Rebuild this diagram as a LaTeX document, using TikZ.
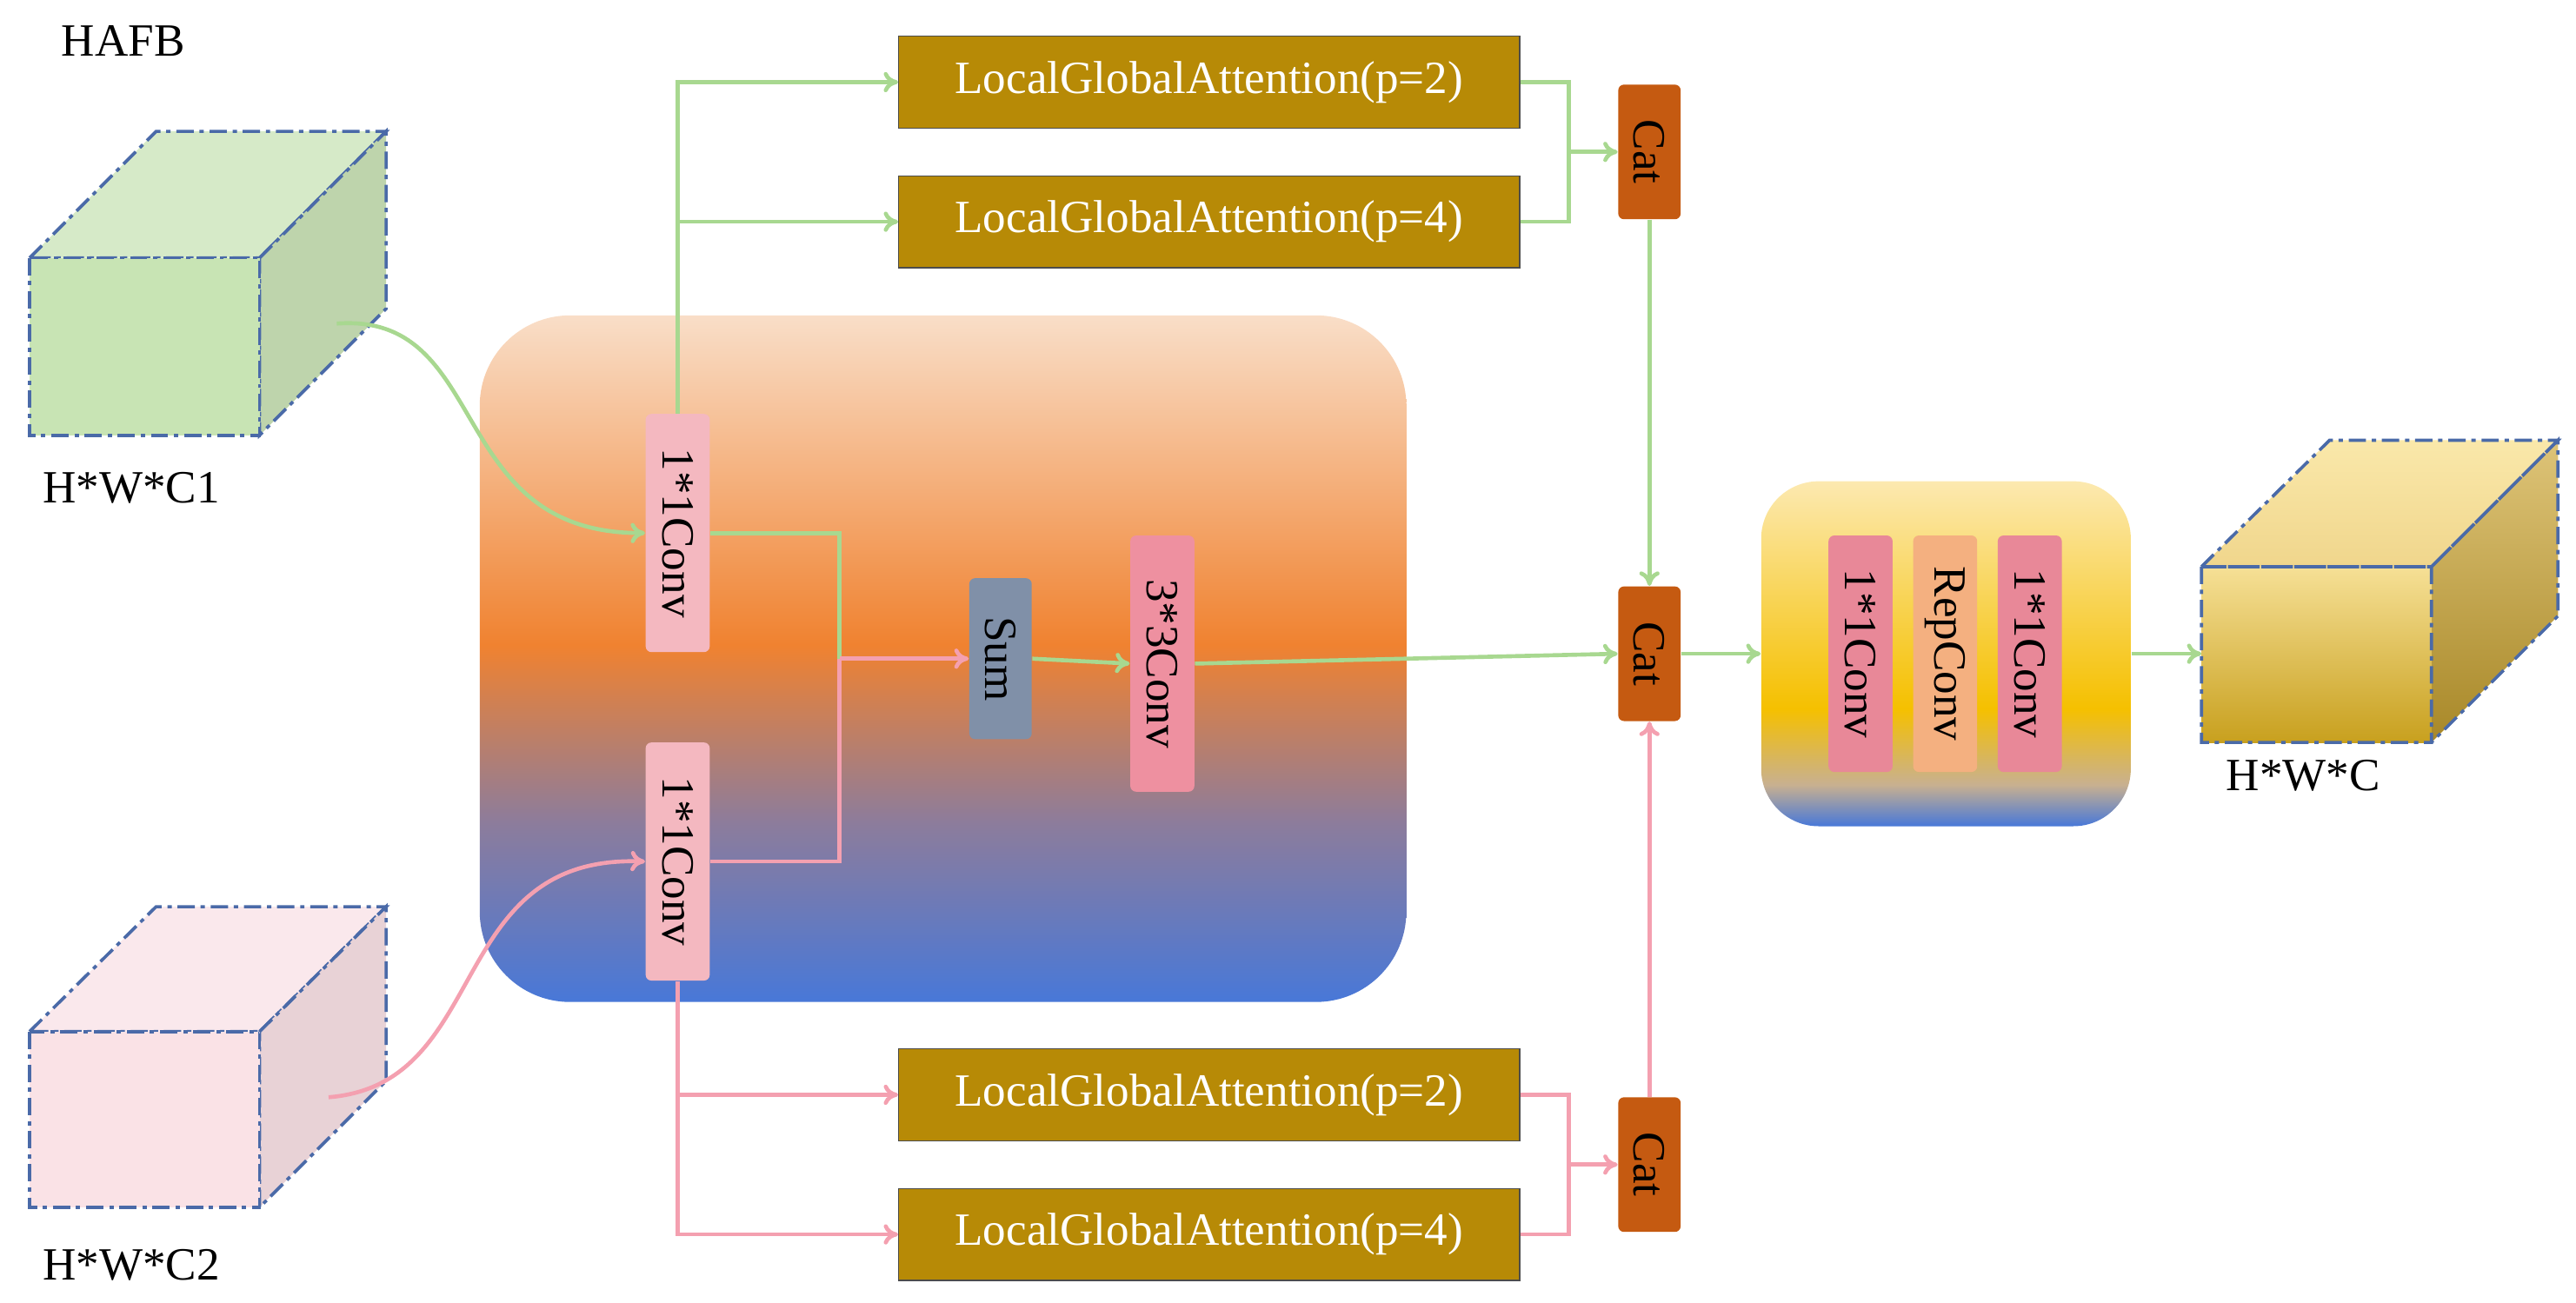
\documentclass[tikz,border=0pt]{standalone}
\usepackage{fontspec}
\setmainfont{Liberation Serif}
\usetikzlibrary{arrows.meta}
\definecolor{gl}{HTML}{A8D890}
\definecolor{pk}{HTML}{F4A0B0}
\definecolor{gold}{HTML}{B78A06}
\definecolor{catc}{HTML}{C55A11}
\definecolor{cb}{HTML}{4A6AA8}
\definecolor{sbl}{HTML}{4878D8}
\definecolor{smv}{HTML}{8C7C9C}
\definecolor{sor}{HTML}{F08230}
\definecolor{spc}{HTML}{F9DEC8}
\definecolor{ytan}{HTML}{C8B090}
\definecolor{yy}{HTML}{F5C000}
\definecolor{ylt}{HTML}{FCE9B0}
\pgfdeclareverticalshading{bigsh}{100bp}{color(0bp)=(sbl);color(25bp)=(sbl);color(38bp)=(smv);color(51bp)=(sor);color(75bp)=(spc);color(100bp)=(spc)}
\pgfdeclareverticalshading{ysh}{100bp}{color(0bp)=(sbl);color(25bp)=(sbl);color(31bp)=(ytan);color(42bp)=(yy);color(75bp)=(ylt);color(100bp)=(ylt)}
\tikzset{
 x=0.02cm,y=-0.02cm,
 every node/.style={font=\fontsize{16}{19}\selectfont, inner sep=0pt},
 lga/.style={draw=black!70,fill=gold,text=white,minimum width=7.56cm,minimum height=1.12cm},
 cat/.style={fill=catc,rounded corners=2pt,minimum width=0.76cm,minimum height=1.64cm},
 cv/.style={rounded corners=2pt,minimum width=0.78cm},
 g/.style={draw=gl,line width=1.4pt,-{To[length=5pt,width=7pt]}},
 gn/.style={draw=gl,line width=1.4pt},
 p/.style={draw=pk,line width=1.4pt,-{To[length=5pt,width=7pt]}},
 pn/.style={draw=pk,line width=1.4pt},
 cubeedge/.style={draw=cb,line width=1.1pt,dash pattern=on 6pt off 2pt on 1.5pt off 2pt},
}
\newcommand{\rt}[1]{\rotatebox{-90}{#1}}
\begin{document}
\begin{tikzpicture}
\useasboundingbox (0,0) rectangle (1568,793);
\node at (75,25) {HAFB};
% green cube
\filldraw[cubeedge,fill={rgb,255:red,214;green,234;blue,200}] (18,157)--(95,80)--(235,80)--(158,157)--cycle;
\filldraw[cubeedge,fill={rgb,255:red,190;green,212;blue,172}] (158,157)--(235,80)--(235,188)--(158,265)--cycle;
\draw[cubeedge,fill={rgb,255:red,200;green,228;blue,180}] (18,157) rectangle (158,265);
\node (l1) at (80,297) {H*W*C1};
\coordinate (gc) at (205,197);
% pink cube
\filldraw[cubeedge,fill={rgb,255:red,250;green,232;blue,236}] (18,628)--(95,552)--(235,552)--(158,628)--cycle;
\filldraw[cubeedge,fill={rgb,255:red,232;green,210;blue,214}] (158,628)--(235,552)--(235,658)--(158,735)--cycle;
\draw[cubeedge,fill={rgb,255:red,250;green,226;blue,230}] (18,628) rectangle (158,735);
\node (l2) at (80,770) {H*W*C2};
\coordinate (pc) at (200,668);
% big box
\shade[shading=bigsh,rounded corners=1.1cm] (292,192) rectangle (856,610);
\node[cv,fill={rgb,255:red,244;green,184;blue,192},minimum height=2.9cm] (cT) at (412.5,324.5) {\rt{1*1Conv}};
\node[cv,fill={rgb,255:red,244;green,184;blue,192},minimum height=2.9cm] (cB) at (412.5,524.5) {\rt{1*1Conv}};
\node[cv,fill={rgb,255:red,128;green,144;blue,168},minimum width=0.76cm,minimum height=1.96cm] (sum) at (609,401) {\rt{Sum}};
\node[cv,fill={rgb,255:red,238;green,144;blue,160},minimum height=3.12cm] (c33) at (707.5,404) {\rt{3*3Conv}};
% LGA
\node[lga] (a1) at (736,50) {LocalGlobalAttention(p=2)};
\node[lga] (a2) at (736,135) {LocalGlobalAttention(p=4)};
\node[lga] (a3) at (736,666.5) {LocalGlobalAttention(p=2)};
\node[lga] (a4) at (736,751.5) {LocalGlobalAttention(p=4)};
\node[cat] (k1) at (1004,92.5) {\rt{Cat}};
\node[cat] (k2) at (1004,398) {\rt{Cat}};
\node[cat] (k3) at (1004,709) {\rt{Cat}};
% yellow block
\shade[shading=ysh,rounded corners=0.7cm] (1072,293) rectangle (1297,503);
\node (yb) at (1184.5,398) [minimum width=4.5cm,minimum height=4.2cm] {};
\node[cv,fill={rgb,255:red,232;green,136;blue,152},minimum height=2.88cm] (i1) at (1132.5,398) {\rt{1*1Conv}};
\node[cv,fill={rgb,255:red,244;green,176;blue,128},minimum height=2.88cm] (i2) at (1184,398) {\rt{RepConv}};
\node[cv,fill={rgb,255:red,232;green,136;blue,152},minimum height=2.88cm] (i3) at (1235.5,398) {\rt{1*1Conv}};
% output cube
\shade[top color={rgb,255:red,250;green,232;blue,170},bottom color={rgb,255:red,240;green,214;blue,140}] (1340,345)--(1418,268)--(1557,268)--(1480,345)--cycle;
\shade[top color={rgb,255:red,222;green,196;blue,120},bottom color={rgb,255:red,168;green,136;blue,40}] (1480,345)--(1557,268)--(1557,375)--(1480,452)--cycle;
\shade[top color={rgb,255:red,246;green,224;blue,150},bottom color={rgb,255:red,200;green,160;blue,30}] (1340,345) rectangle (1480,452);
\draw[cubeedge] (1340,345)--(1418,268)--(1557,268)--(1480,345)--cycle (1480,345)--(1557,268)--(1557,375)--(1480,452) (1340,345) rectangle (1480,452);
\coordinate (oc) at (1340,398);
\node (l3) at (1402,472) {H*W*C};
% connectors
\draw[g] (gc) .. controls (300,190) and (270,325) .. (cT.west);
\draw[p] (pc) .. controls (300,660) and (270,520) .. (cB.west);
\draw[g] (cT.north) |- (a1.west);
\draw[g] (cT.north |- a2.west) -- (a2.west);
\draw[p] (cB.south) |- (a4.west);
\draw[p] (cB.south |- a3.west) -- (a3.west);
\coordinate (j) at (511,401);
\draw[gn] (cT.east) -| (j);
\draw[pn] (cB.east) -| (j);
\draw[p] (j) -- (sum.west);
\draw[g] (sum.east) -- (c33.west);
\draw[g] (c33.east) -- (k2.west);
\coordinate (m1) at (955,92.5);
\coordinate (m3) at (955,709);
\draw[gn] (a1.east) -| (m1);
\draw[gn] (a2.east) -| (m1);
\draw[g] (m1) -- (k1.west);
\draw[pn] (a3.east) -| (m3);
\draw[pn] (a4.east) -| (m3);
\draw[p] (m3) -- (k3.west);
\draw[g] (k1.south) -- (k2.north);
\draw[p] (k3.north) -- (k2.south);
\draw[g] (k2.east) -- (yb.west);
\draw[g] (yb.east) -- (oc);
\end{tikzpicture}
\end{document}
